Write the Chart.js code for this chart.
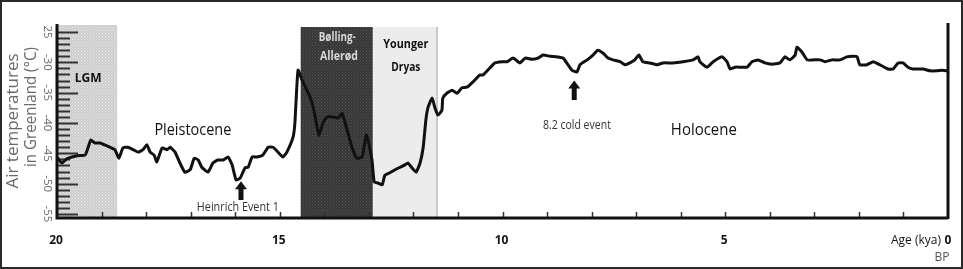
<!DOCTYPE html>
<html>
<head>
<meta charset="utf-8">
<script src="https://cdn.jsdelivr.net/npm/chart.js@4.4.1/dist/chart.umd.min.js"></script>
<style>
  html, body { margin: 0; padding: 0; background: #fff; }
  #wrap { width: 963px; height: 269px; }
</style>
</head>
<body>
<div id="wrap"><canvas id="chart" width="963" height="269"></canvas></div>
<script>
/* ================================
   Data
   ================================ */
const ageKya = [
  19.98, 19.89, 19.78, 19.55, 19.37, 19.30, 19.24, 19.15, 19.03, 18.81,
  18.70, 18.61, 18.52, 18.41, 18.29, 18.18, 18.07, 17.98, 17.91, 17.82,
  17.76, 17.64, 17.53, 17.46, 17.35, 17.24, 17.13, 17.01, 16.92, 16.83,
  16.75, 16.61, 16.50, 16.39, 16.27, 16.16, 16.07, 15.98, 15.89, 15.78,
  15.71, 15.62, 15.51, 15.38, 15.26, 15.15, 15.04, 14.93, 14.84, 14.70,
  14.66, 14.59, 14.50, 14.39, 14.32, 14.25, 14.16, 14.12, 14.03, 13.94,
  13.80, 13.69, 13.60, 13.54, 13.47, 13.38, 13.27, 13.15, 13.06, 13.02,
  12.93, 12.88, 12.79, 12.70, 12.64, 12.53, 12.41, 12.30, 12.19, 12.12,
  12.03, 11.94, 11.85, 11.78, 11.72, 11.67, 11.58, 11.52, 11.45, 11.36,
  11.34, 11.25, 11.13, 11.02, 10.91, 10.80, 10.66, 10.51, 10.44, 10.28,
  10.17, 10.01, 9.90, 9.76, 9.61, 9.49, 9.34, 9.20, 9.09, 8.93,
  8.78, 8.64, 8.53, 8.44, 8.33, 8.26, 8.10, 7.97, 7.86, 7.74,
  7.63, 7.52, 7.36, 7.25, 7.14, 7.03, 6.94, 6.85, 6.69, 6.53,
  6.40, 6.17, 5.95, 5.72, 5.61, 5.57, 5.41, 5.27, 5.07, 4.96,
  4.89, 4.78, 4.67, 4.51, 4.40, 4.26, 4.11, 3.95, 3.77, 3.66,
  3.55, 3.43, 3.39, 3.28, 3.16, 3.03, 2.87, 2.76, 2.60, 2.42,
  2.27, 2.13, 2.04, 1.98, 1.82, 1.68, 1.53, 1.35, 1.23, 1.12,
  1.01, 0.90, 0.79, 0.56, 0.40, 0.25, 0.13, 0.02
];
const tempC = [
  -45.8, -46.6, -45.9, -45.4, -45.3, -44.0, -42.8, -43.3, -43.3, -44.0,
  -44.4, -45.8, -44.1, -44.0, -44.4, -44.8, -44.4, -43.6, -44.8, -45.3,
  -46.4, -44.1, -44.4, -44.0, -44.8, -46.6, -48.1, -47.7, -45.8, -46.1,
  -47.3, -48.1, -46.6, -46.1, -46.1, -45.6, -46.9, -49.4, -49.1, -47.4,
  -47.3, -45.6, -45.6, -45.3, -44.0, -44.0, -44.8, -45.6, -44.8, -42.3,
  -40.0, -31.3, -32.9, -34.6, -35.7, -37.4, -40.7, -42.0, -40.0, -39.0,
  -39.0, -39.2, -38.4, -39.8, -41.6, -44.0, -45.8, -45.6, -42.0, -42.8,
  -46.1, -49.7, -49.9, -50.2, -48.6, -48.2, -47.7, -47.3, -46.9, -46.6,
  -47.4, -48.1, -46.6, -44.0, -39.5, -37.4, -35.9, -37.4, -38.7, -37.9,
  -35.9, -35.1, -34.6, -35.1, -34.2, -34.1, -33.2, -32.1, -32.1, -30.9,
  -30.1, -29.9, -29.9, -29.3, -30.1, -29.3, -29.5, -29.3, -28.8, -29.0,
  -29.1, -29.3, -30.4, -31.3, -31.6, -30.4, -29.6, -28.8, -28.0, -28.5,
  -29.3, -29.6, -29.9, -30.4, -30.1, -29.6, -28.8, -29.9, -30.1, -30.4,
  -30.1, -30.1, -29.9, -29.6, -29.1, -29.9, -30.8, -29.9, -29.1, -29.9,
  -31.1, -30.8, -30.8, -30.8, -29.9, -29.6, -30.1, -30.3, -30.1, -29.1,
  -29.6, -28.8, -27.5, -28.3, -29.6, -29.6, -29.6, -29.9, -29.6, -29.6,
  -29.1, -29.0, -29.1, -30.4, -30.4, -29.9, -30.4, -31.1, -31.1, -30.1,
  -30.1, -30.8, -31.1, -31.1, -31.4, -31.4, -31.3, -31.4
];

// shaded periods (kya)
const periodNames = ["LGM", "Bølling-Allerød", "Younger Dryas"];
const periodStart = [20, 14.53, 12.91];
const periodEnd = [18.65, 12.91, 11.48];

// tick labels
const yTickValues = [-25, -30, -35, -40, -45, -50, -55];
const yTickLabels = ["25", "-30", "-35", "-40", "-45", "-50", "-55"];
const xTickValues = [20, 15, 10, 5];
const xTickLabels = ["20", "15", "10", "5"];

// annotations: [text, age, temp]
const notes = [
  ["Pleistocene", 16.95, -41.2],
  ["Heinrich Event 1", 15.94, -54.0],
  ["8.2 cold event", 8.33, -40.5],
  ["Holocene", 5.48, -41.2]
];
const arrows = [
  // [age, tip temp, base temp]
  [15.87, -49.6, -52.7],
  [8.39, -33.0, -36.2]
];

/* ================================
   Helpers
   ================================ */
function makePattern(base, dot, step) {
  const c = document.createElement("canvas");
  c.width = step; c.height = step;
  const g = c.getContext("2d");
  g.fillStyle = base;
  g.fillRect(0, 0, step, step);
  g.fillStyle = dot;
  g.fillRect(0, 0, 1, 1);
  g.fillRect(step / 2, step / 2, 1, 1);
  return g.createPattern(c, "repeat");
}

function drawArrow(ctx, x, yTip, yBase) {
  ctx.save();
  ctx.fillStyle = "#111";
  ctx.beginPath();
  ctx.moveTo(x, yTip);
  ctx.lineTo(x + 6, yTip + 8);
  ctx.lineTo(x + 2.5, yTip + 8);
  ctx.lineTo(x + 2.5, yBase);
  ctx.lineTo(x - 2.5, yBase);
  ctx.lineTo(x - 2.5, yTip + 8);
  ctx.lineTo(x - 6, yTip + 8);
  ctx.closePath();
  ctx.fill();
  ctx.restore();
}

const textFont = "'Open Sans', 'Noto Sans', sans-serif";

/* ================================
   Custom drawing plugin
   ================================ */
const figurePlugin = {
  id: "figure",
  beforeDraw(chart) {
    const { ctx, width, height } = chart;
    ctx.save();
    ctx.fillStyle = "#fff";
    ctx.fillRect(0, 0, width, height);
    ctx.restore();
  },
  beforeDatasetsDraw(chart) {
    const { ctx, chartArea, scales } = chart;
    const x = scales.x, y = scales.y;
    const fills = [
      makePattern("#cdcdcd", "#eaeaea", 3),
      makePattern("#363636", "#555555", 3),
      "#ececec"
    ];
    ctx.save();
    periodNames.forEach((name, i) => {
      const x0 = x.getPixelForValue(periodStart[i]);
      const x1 = x.getPixelForValue(periodEnd[i]);
      const top = i === 0 ? chartArea.top - 2 : chartArea.top;
      ctx.fillStyle = fills[i];
      ctx.fillRect(x0, top, x1 - x0, chartArea.bottom - top);
    });
    // thin edge on right of Younger Dryas
    const yd = x.getPixelForValue(periodEnd[2]);
    ctx.strokeStyle = "#9a9a9a";
    ctx.lineWidth = 1;
    ctx.beginPath();
    ctx.moveTo(yd + 0.5, chartArea.top);
    ctx.lineTo(yd + 0.5, chartArea.bottom);
    ctx.stroke();

    // left-axis dashes, one per degree
    ctx.strokeStyle = "#333";
    ctx.lineWidth = 2;
    for (let t = -55; t <= -25; t++) {
      const py = Math.round(y.getPixelForValue(t)) + 0.5;
      const len = t % 5 === 0 ? 21 : 13;
      ctx.beginPath();
      ctx.moveTo(chartArea.left, py);
      ctx.lineTo(chartArea.left + len, py);
      ctx.stroke();
    }

    // x-axis minor ticks every kya
    ctx.strokeStyle = "#333";
    ctx.lineWidth = 1.5;
    for (let a = 1; a < 20; a++) {
      const px = Math.round(x.getPixelForValue(a)) + 0.5;
      ctx.beginPath();
      ctx.moveTo(px, chartArea.bottom);
      ctx.lineTo(px, chartArea.bottom - 6);
      ctx.stroke();
    }
    ctx.restore();
  },
  afterDatasetsDraw(chart) {
    const { ctx, chartArea, scales, width, height } = chart;
    const x = scales.x, y = scales.y;
    ctx.save();

    // axis lines
    ctx.strokeStyle = "#111";
    ctx.lineWidth = 3;
    ctx.beginPath();
    ctx.moveTo(chartArea.left, chartArea.top - 3);
    ctx.lineTo(chartArea.left, chartArea.bottom);
    ctx.lineTo(chartArea.right, chartArea.bottom);
    ctx.moveTo(chartArea.right, chartArea.top - 4);
    ctx.lineTo(chartArea.right, chartArea.bottom + 1);
    ctx.stroke();

    // y tick labels, turned clockwise
    ctx.fillStyle = "#666";
    ctx.font = "11.5px " + textFont;
    ctx.textAlign = "center";
    ctx.textBaseline = "middle";
    yTickValues.forEach((v, i) => {
      ctx.save();
      ctx.translate(47, y.getPixelForValue(v));
      ctx.rotate(Math.PI / 2);
      ctx.fillText(yTickLabels[i], 0, 0);
      ctx.restore();
    });

    // y title, two lines
    ctx.fillStyle = "#6a6a6a";
    ctx.font = "17px " + textFont;
    ctx.save();
    ctx.translate(13, 121);
    ctx.rotate(-Math.PI / 2);
    ctx.fillText("Air temperatures", 0, 0, 146);
    ctx.restore();
    ctx.save();
    ctx.translate(31, 107);
    ctx.rotate(-Math.PI / 2);
    ctx.fillText("in Greenland (°C)", 0, 0, 120);
    ctx.restore();

    // x tick labels
    ctx.fillStyle = "#151515";
    ctx.font = "bold 12px " + textFont;
    xTickValues.forEach((v, i) => {
      ctx.fillText(xTickLabels[i], x.getPixelForValue(v) - 1, 241, 16);
    });
    ctx.fillText("0", x.getPixelForValue(0), 241);
    ctx.font = "12px " + textFont;
    ctx.textAlign = "right";
    ctx.fillText("Age (kya)", x.getPixelForValue(0) - 7, 241, 57);
    ctx.textAlign = "center";
    ctx.fillStyle = "#555";
    ctx.fillText("BP", x.getPixelForValue(0) - 6, 258, 16);

    // period labels
    ctx.fillStyle = "#111";
    ctx.font = "bold 12px " + textFont;
    ctx.fillText("LGM", x.getPixelForValue(19.30), y.getPixelForValue(-32.6), 27);
    ctx.fillText("Younger", x.getPixelForValue(12.17), y.getPixelForValue(-27.1), 45);
    ctx.fillText("Dryas", x.getPixelForValue(12.17), y.getPixelForValue(-30.8), 29);
    ctx.fillStyle = "#d8d8d8";
    ctx.fillText("Bølling-", x.getPixelForValue(13.71), y.getPixelForValue(-26.0), 37);
    ctx.fillText("Allerød", x.getPixelForValue(13.67), y.getPixelForValue(-29.1), 38);

    // annotations
    notes.forEach(([txt, a, t]) => {
      const big = txt === "Pleistocene" || txt === "Holocene";
      ctx.font = (big ? "17px " : "12px ") + textFont;
      const maxW = { "Pleistocene": 77, "Holocene": 66, "Heinrich Event 1": 82, "8.2 cold event": 68 }[txt];
      ctx.fillStyle = big ? "#111" : "#333";
      ctx.fillText(txt, x.getPixelForValue(a), y.getPixelForValue(t), maxW);
    });
    arrows.forEach(([a, tip, base]) => {
      drawArrow(ctx, x.getPixelForValue(a), y.getPixelForValue(tip), y.getPixelForValue(base));
    });

    // frame around the figure
    ctx.strokeStyle = "#2a2a2a";
    ctx.lineWidth = 2;
    ctx.strokeRect(1, 1, width - 2, height - 2);
    ctx.restore();
  }
};

/* ================================
   Chart
   ================================ */
const points = ageKya.map((a, i) => ({ x: a, y: tempC[i] }));

new Chart(document.getElementById("chart").getContext("2d"), {
  type: "line",
  data: {
    datasets: [
      {
        label: "Air temperature",
        data: points,
        borderColor: "#111",
        backgroundColor: "transparent",
        borderWidth: 3,
        pointRadius: 0,
        tension: 0.15,
        borderJoinStyle: "round",
        borderCapStyle: "round"
      }
    ]
  },
  options: {
    responsive: false,
    animation: false,
    events: [],
    layout: { padding: { left: 57, right: 15, top: 27, bottom: 51 } },
    plugins: {
      legend: { display: false },
      tooltip: { enabled: false }
    },
    scales: {
      x: { type: "linear", min: 0, max: 20, reverse: true, display: false },
      y: { type: "linear", min: -55.66, max: -24.18, display: false }
    }
  },
  plugins: [figurePlugin]
});
</script>
</body>
</html>
